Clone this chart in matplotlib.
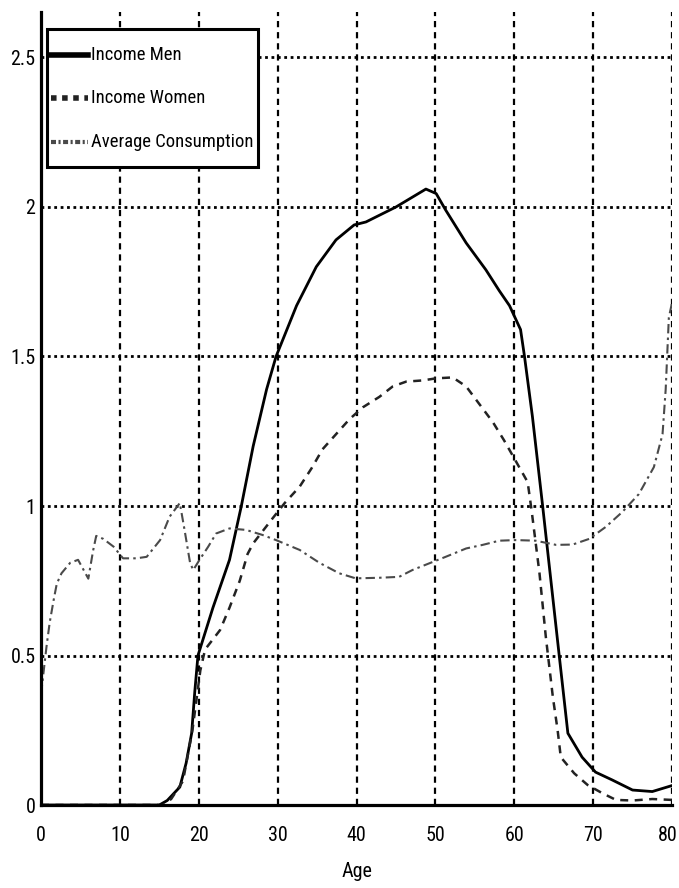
import matplotlib
matplotlib.use("Agg")
import matplotlib.pyplot as plt
import numpy as np
from matplotlib import font_manager as fm
from matplotlib import transforms as mtrans

# ---------------- data ----------------
age_men = [0, 15, 16, 17.6, 18.4, 19.1, 19.5, 19.9, 21.8, 23.9, 25.4, 26.9, 28.6, 29.8,
           32.4, 34.9, 37.4, 39.7, 41.2, 45, 48.8, 50.1, 51.3, 53.9, 56.4, 58.1, 59.4,
           60.8, 61.3, 62.3, 63.6, 65.7, 66.8, 68.6, 70.3, 72.4, 75, 77.5, 80]
income_men = [0, 0, 0.015, 0.06, 0.14, 0.24, 0.38, 0.5, 0.66, 0.82, 1.0, 1.2, 1.39, 1.5,
              1.67, 1.80, 1.89, 1.94, 1.95, 2.0, 2.06, 2.045, 1.99, 1.88, 1.79, 1.72, 1.67,
              1.59, 1.5, 1.30, 1.0, 0.5, 0.24, 0.16, 0.11, 0.084, 0.05, 0.045, 0.065]

age_women = [0, 15.5, 16.5, 18, 19.2, 20.2, 20.8, 22.7, 23.9, 25.2, 26.2, 26.9, 29.4, 30.9,
             32.8, 34.3, 35.7, 37.4, 39.1, 40.8, 42.9, 44.6, 46.3, 48.4, 50.1, 52.2, 53.9,
             55.6, 57.3, 58.7, 60.2, 61.7, 62.2, 63.2, 64, 64.9, 65.5, 65.9, 67.6, 69.3,
             71.2, 72.9, 75, 77.5, 80]
income_women = [0, 0, 0.02, 0.08, 0.25, 0.45, 0.52, 0.585, 0.66, 0.75, 0.84, 0.875, 0.96, 1.01,
                1.065, 1.126, 1.19, 1.24, 1.29, 1.33, 1.365, 1.40, 1.416, 1.42, 1.427, 1.43, 1.40,
                1.34, 1.28, 1.22, 1.15, 1.08, 0.985, 0.775, 0.563, 0.36, 0.25, 0.16, 0.106, 0.067,
                0.039, 0.017, 0.015, 0.02, 0.017]

age_cons = [0, 0.7, 1.1, 1.6, 2.0, 2.6, 3.7, 4.7, 6.0, 6.6, 7.0, 7.9, 9.2, 10.4, 12.1, 13.4,
            15.1, 16.3, 17.6, 18.2, 18.9, 19.3, 20.1, 21.2, 22.2, 23.9, 26, 28.1, 29.8, 32.8,
            35.3, 37.8, 39.9, 42.9, 45.4, 47.1, 49.2, 51.3, 53.9, 56, 58.1, 60.2, 62.7, 65.3,
            67.4, 69.5, 71.6, 73.7, 75.8, 77.7, 78.8, 79.2, 79.6, 80]
avg_consumption = [0.37, 0.53, 0.61, 0.685, 0.74, 0.775, 0.81, 0.82, 0.757, 0.85, 0.90, 0.89,
                   0.864, 0.825, 0.825, 0.83, 0.886, 0.964, 1.01, 0.92, 0.81, 0.786, 0.82, 0.864,
                   0.908, 0.925, 0.92, 0.903, 0.886, 0.853, 0.81, 0.775, 0.758, 0.76, 0.763, 0.786,
                   0.808, 0.83, 0.858, 0.87, 0.884, 0.886, 0.884, 0.87, 0.871, 0.89, 0.93, 0.98,
                   1.04, 1.13, 1.24, 1.39, 1.63, 1.68]

x_ticks = [0, 10, 20, 30, 40, 50, 60, 70, 80]
y_ticks = [0, 0.5, 1, 1.5, 2, 2.5]
y_tick_labels = ["0", "0.5", "1", "1.5", "2", "2.5"]
labels = ["Income Men", "Income Women", "Average Consumption"]
x_label = "Age"

# ---------------- font: prefer a narrow / condensed face ----------------
cond_stretch = {"condensed", "semi-condensed", "extra-condensed", "ultra-condensed"}
pref = ["Liberation Sans Narrow", "Roboto Condensed", "Open Sans Condensed",
        "Noto Sans", "DejaVu Sans Condensed", "Noto Sans Display"]
cands = []
for f in fm.fontManager.ttflist:
    st = f.stretch
    is_cond = ("Narrow" in f.name or "Condensed" in f.name or
               (isinstance(st, str) and st in cond_stretch) or
               (isinstance(st, (int, float)) and st < 500))
    if not is_cond or f.style != "normal":
        continue
    w = f.weight if isinstance(f.weight, (int, float)) else (400 if f.weight in ("normal", "regular") else 700)
    if w > 500 or w < 350:
        continue
    rank = pref.index(f.name) if f.name in pref else len(pref)
    cands.append((rank, f.fname))
cands.sort()
if cands:
    FP = lambda: fm.FontProperties(fname=cands[0][1])
else:
    FP = lambda: fm.FontProperties(family="DejaVu Sans")

# ---------------- figure ----------------
fig = plt.figure(figsize=(6.79, 8.88), dpi=100)
renderer = fig.canvas.get_renderer()


def size_for(text, target_w, max_h_px):
    t = fig.text(0, 0, text, fontproperties=FP(), fontsize=20)
    bb = t.get_window_extent(renderer)
    t.remove()
    s = 20 * target_w / bb.width
    s = min(s, max_h_px / 0.73 * 72 / 100)
    return s


tick_fs = size_for("0.5", 25, 27)
leg_fs = size_for("Average Consumption", 162, 25)
lab_fs = size_for("Age", 31, 24)

ax = fig.add_axes([41 / 679, 1 - 805 / 888, 631 / 679, 793 / 888])

l1, = ax.plot(age_men, income_men, color="black", lw=2.0, solid_joinstyle="round")
l2, = ax.plot(age_women, income_women, color="#222222", lw=1.8, dashes=(3.2, 2.6))
l3, = ax.plot(age_cons, avg_consumption, color="#4a4a4a", lw=1.5, dashes=(4.5, 2, 1.2, 2))

ax.set_xlim(0, 80)
ax.set_ylim(0, 793 / 299)
ax.set_xticks(x_ticks)
ax.set_xticklabels([str(v) for v in x_ticks])
ax.set_yticks(y_ticks)
ax.set_yticklabels(y_tick_labels)

tick_px = tick_fs * 100 / 72
xpad_px = max(3, 33 - 0.6 * tick_px)
ax.tick_params(axis="x", length=0, pad=xpad_px * 72 / 100)
ax.tick_params(axis="y", length=0, pad=4)
for t in ax.get_xticklabels() + ax.get_yticklabels():
    t.set_fontproperties(FP())
    t.set_fontsize(tick_fs)
last = ax.get_xticklabels()[-1]
last.set_transform(last.get_transform() + mtrans.ScaledTranslation(-4 / 100, 0, fig.dpi_scale_trans))

for x in x_ticks:
    ax.axvline(x, color="black", lw=1.6, dashes=(2.8, 2.2), zorder=1)
for y in y_ticks[1:]:
    ax.axhline(y, color="black", lw=2.0, dashes=(1.0, 1.3), zorder=1)

for s in ["top", "right"]:
    ax.spines[s].set_visible(False)
for s in ["left", "bottom"]:
    ax.spines[s].set_linewidth(2.3)
    ax.spines[s].set_zorder(5)

lab_px = lab_fs * 100 / 72
xl = ax.set_xlabel(x_label)
xl.set_fontproperties(FP())
xl.set_fontsize(lab_fs)
ax.xaxis.set_label_coords(0.5, -(874 - 805 - 0.6 * lab_px) / 793)
xl.set_va("top")

fpx = leg_fs * 100 / 72
lp = FP()
lp.set_size(leg_fs)
row_px = 43.5
hh = (row_px / fpx - 0.245) / 0.65
leg = ax.legend([l1, l2, l3], labels, loc="upper left",
                bbox_to_anchor=(6 / 631, 1 - 17 / 793), borderaxespad=0,
                prop=lp, handlelength=37 / fpx, handletextpad=3 / fpx,
                handleheight=hh, labelspacing=0.0,
                borderpad=4 / fpx, fancybox=False, framealpha=1)
try:
    for col in leg._legend_handle_box.get_children():
        for row in col.get_children():
            row.align = "center"
except Exception:
    pass
leg.get_frame().set_edgecolor("black")
leg.get_frame().set_linewidth(2.2)
hl = leg.get_lines()
# move handle lines down to the vertical centre of their rows
descent_pt = 0.35 * leg_fs * (hh - 0.7)
for ln in hl:
    yd = np.asarray(ln.get_ydata(), dtype=float)
    ln.set_ydata(yd - descent_pt / 2)
hl[0].set_linewidth(4)
hl[1].set_linewidth(4)
hl[1].set_dashes((1.0, 1.0))
hl[2].set_linewidth(3)
hl[2].set_dashes((1.2, 0.6, 0.5, 0.6))

fig.savefig("out.png", dpi=100)
